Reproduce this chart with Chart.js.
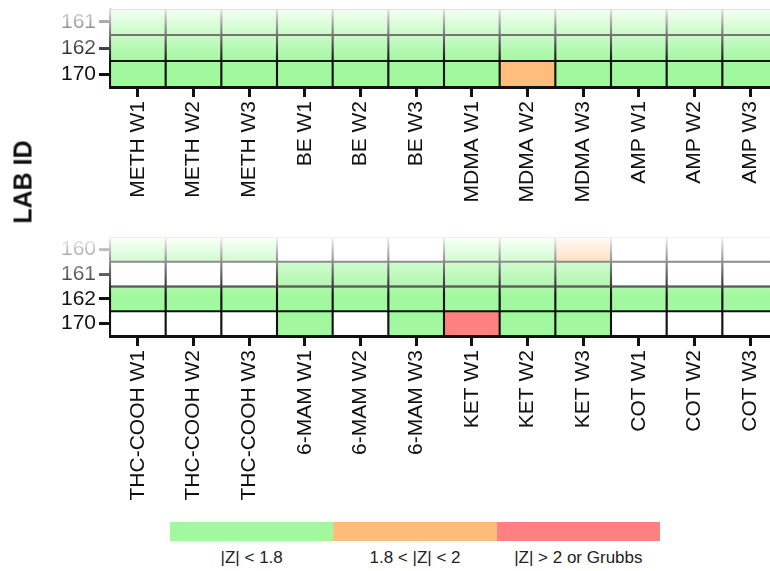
<!DOCTYPE html>
<html>
<head>
<meta charset="utf-8">
<script src="https://cdn.jsdelivr.net/npm/chart.js@4.4.1/dist/chart.umd.min.js"></script>
<style>
  html, body { margin: 0; padding: 0; background: #fff; }
  body { width: 770px; height: 571px; position: relative; overflow: hidden;
         font-family: 'Liberation Sans', Arial, sans-serif; }
  .panel { position: absolute; left: 0; width: 780px; }
  #topWrap { top: 0; height: 230px; }
  #botWrap { top: 230px; height: 280px; }
  #yTitle { position: absolute; left: 23px; top: 182px; transform: translate(-50%, -50%) rotate(-90deg);
            font-weight: bold; font-size: 25px; color: #111; white-space: nowrap; }
  #legendBar { position: absolute; left: 170px; top: 522px; width: 490px; height: 19px; display: flex; }
  #legendBar div { flex: 1; }
  #legendText { position: absolute; left: 170px; top: 548px; width: 490px; display: flex;
                font-size: 17px; color: #222; }
  #legendText div { flex: 1; text-align: center; white-space: pre; }
</style>
</head>
<body>
<div class="panel" id="topWrap"><canvas id="topChart"></canvas></div>
<div class="panel" id="botWrap"><canvas id="botChart"></canvas></div>
<div id="yTitle">LAB ID</div>
<div id="legendBar"></div>
<div id="legendText"></div>
<script>
// flag codes: 0 = no result, 1 = |Z| < 1.8, 2 = 1.8 < |Z| < 2, 3 = |Z| > 2 or Grubbs
const FLAG_COLORS = ['#ffffff', '#a2f89e', '#ffbd7d', '#ff8080'];
const LEGEND_LABELS = ['|Z| < 1.8', '1.8 < |Z| < 2', '|Z| > 2 or Grubbs'];

const TOP_COLS = ['METH W1', 'METH W2', 'METH W3', 'BE W1', 'BE W2', 'BE W3',
                  'MDMA W1', 'MDMA W2', 'MDMA W3', 'AMP W1', 'AMP W2', 'AMP W3'];
const TOP_ROWS = ['170', '162', '161']; // bottom -> top
const TOP_170 = [1, 1, 1, 1, 1, 1, 1, 2, 1, 1, 1, 1];
const TOP_162 = [1, 1, 1, 1, 1, 1, 1, 1, 1, 1, 1, 1];
const TOP_161 = [1, 1, 1, 1, 1, 1, 1, 1, 1, 1, 1, 1];

const BOT_COLS = ['THC-COOH W1', 'THC-COOH W2', 'THC-COOH W3', '6-MAM W1', '6-MAM W2', '6-MAM W3',
                  'KET W1', 'KET W2', 'KET W3', 'COT W1', 'COT W2', 'COT W3'];
const BOT_ROWS = ['170', '162', '161', '160'];
const BOT_170 = [0, 0, 0, 1, 0, 1, 3, 1, 1, 0, 0, 0];
const BOT_162 = [1, 1, 1, 1, 1, 1, 1, 1, 1, 1, 1, 1];
const BOT_161 = [0, 0, 0, 1, 1, 1, 1, 1, 1, 0, 0, 0];
const BOT_160 = [1, 1, 1, 0, 0, 0, 1, 1, 2, 0, 0, 0];

const FONT = "'Liberation Sans', Arial, sans-serif";

// white fade over the top of each panel (cropped look)
const fadePlugin = {
  id: 'fade',
  afterDraw(chart, args, opts) {
    const ctx = chart.ctx;
    const g = ctx.createLinearGradient(0, opts.from, 0, opts.to);
    g.addColorStop(0, 'rgba(255,255,255,0.97)');
    g.addColorStop(0.45, 'rgba(255,255,255,0.5)');
    g.addColorStop(1, 'rgba(255,255,255,0)');
    ctx.save();
    ctx.fillStyle = '#fff';
    ctx.fillRect(0, 0, chart.width, opts.from);
    ctx.fillStyle = g;
    ctx.fillRect(0, opts.from, chart.width, opts.to - opts.from);
    ctx.restore();
  }
};

function makeHeatmap(id, cols, rows, flagRows, cfg) {
  const datasets = flagRows.map((flags, i) => ({
    label: rows[i],
    data: cols.map(() => 1),
    backgroundColor: flags.map(f => FLAG_COLORS[f]),
    borderColor: '#111',
    borderWidth: 1.4,
    borderSkipped: false,
    categoryPercentage: 1,
    barPercentage: 1,
    stack: 'grid',
  }));

  return new Chart(document.getElementById(id), {
    type: 'bar',
    data: { labels: cols, datasets },
    plugins: [fadePlugin],
    options: {
      responsive: true,
      maintainAspectRatio: false,
      animation: false,
      layout: { padding: { top: cfg.padTop, right: 2, left: 0, bottom: 0 } },
      plugins: {
        legend: { display: false },
        tooltip: { enabled: false },
        fade: { from: cfg.fadeFrom, to: cfg.fadeTo },
      },
      scales: {
        x: {
          type: 'category',
          stacked: true,
          z: 1,
          offset: true,
          grid: { display: true, drawOnChartArea: false, offset: false,
                  tickLength: 10, tickWidth: 3, tickColor: '#111' },
          border: { display: true, width: 3, color: '#111' },
          ticks: { autoSkip: false, minRotation: 90, maxRotation: 90, padding: 4,
                   color: '#111', font: { family: FONT, size: 21 } },
          afterFit(scale) {
            scale.height = cfg.xHeight;
            scale.paddingLeft = 0;
            scale.paddingRight = 0;
          },
        },
        y: {
          type: 'linear',
          stacked: true,
          z: 1,
          min: 0,
          max: rows.length,
          grid: { display: true, drawOnChartArea: false,
                  tickLength: 11, tickWidth: 3, tickColor: '#111' },
          border: { display: true, width: 3, color: '#111' },
          afterBuildTicks(scale) { scale.ticks = rows.map((_, i) => ({ value: i + 0.5 })); },
          ticks: { padding: 3, color: '#111', font: { family: FONT, size: 21 },
                   callback: (v, i) => rows[i] },
          afterFit(scale) {
            scale.width = 110;
            scale.paddingTop = 0;
            scale.paddingBottom = 0;
          },
        },
      },
    },
  });
}

makeHeatmap('topChart', TOP_COLS, TOP_ROWS, [TOP_170, TOP_162, TOP_161],
  { padTop: 9, xHeight: 143, fadeFrom: 4, fadeTo: 62 });
makeHeatmap('botChart', BOT_COLS, BOT_ROWS, [BOT_170, BOT_162, BOT_161, BOT_160],
  { padTop: 7, xHeight: 174, fadeFrom: 6, fadeTo: 66 });

// colour key
const bar = document.getElementById('legendBar');
const txt = document.getElementById('legendText');
LEGEND_LABELS.forEach((label, i) => {
  const seg = document.createElement('div');
  seg.style.background = FLAG_COLORS[i + 1];
  bar.appendChild(seg);
  const t = document.createElement('div');
  t.textContent = label;
  txt.appendChild(t);
});
</script>
</body>
</html>
